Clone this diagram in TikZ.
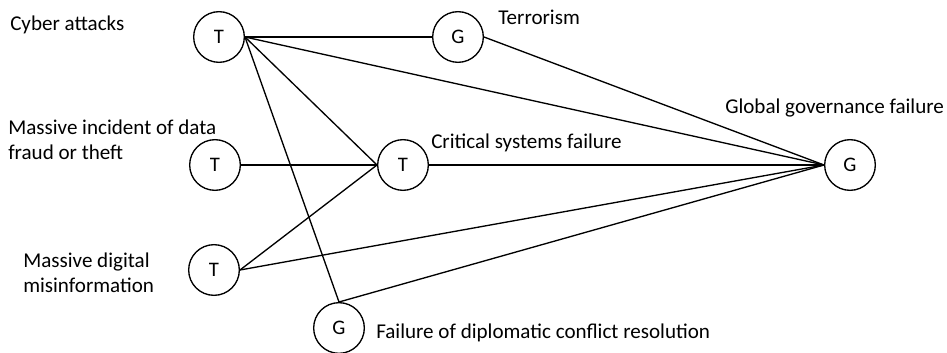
\documentclass[tikz,border=0pt]{standalone}
\usepackage{fontspec}
\setmainfont{Carlito}
\begin{document}
\begin{tikzpicture}[x=0.75pt,y=-0.75pt,
  circ/.style={draw,circle,line width=1pt,minimum size=38pt,inner sep=0pt,font=\fontsize{15.5pt}{18pt}\selectfont},
  lbl/.style={anchor=west,inner sep=0pt,font=\fontsize{15.8pt}{19pt}\selectfont,align=left},
  edge/.style={line width=1pt}]
\useasboundingbox (0,0) rectangle (947,353);
\node[circ] (t1) at (219,37) {T};
\node[circ] (g1) at (458,37) {G};
\node[circ] (t2) at (215,165) {T};
\node[circ] (tc) at (403,165) {T};
\node[circ] (gg) at (850,165) {G};
\node[circ] (t3) at (214,270) {T};
\node[circ] (gf) at (339,328) {G};

\node[lbl] (l1) at (10,25) {Cyber attacks};
\node[lbl] (l2) at (498,17) {Terrorism};
\node[lbl] (l3) at (8,140) {Massive incident of data\\fraud or theft};
\node[lbl] (l4) at (431,143) {Critical systems failure};
\node[lbl] (l5) at (725,108) {Global governance failure};
\node[lbl] (l6) at (23,273) {Massive digital\\misinformation};
\node[lbl] (l7) at (376,333) {Failure of diplomatic conflict resolution};

\draw[edge] (t1.east) -- (g1.west);
\draw[edge] (t1.east) -- (gg.west);
\draw[edge] (t1.east) -- (tc.west);
\draw[edge] (t1.east) -- (gf.north);
\draw[edge] (g1.east) -- (gg.west);
\draw[edge] (t2.east) -- (tc.west);
\draw[edge] (tc.east) -- (gg.west);
\draw[edge] (t3.east) -- (tc.west);
\draw[edge] (t3.east) -- (gg.west);
\draw[edge] (gf.north) -- (gg.west);
\end{tikzpicture}
\end{document}
